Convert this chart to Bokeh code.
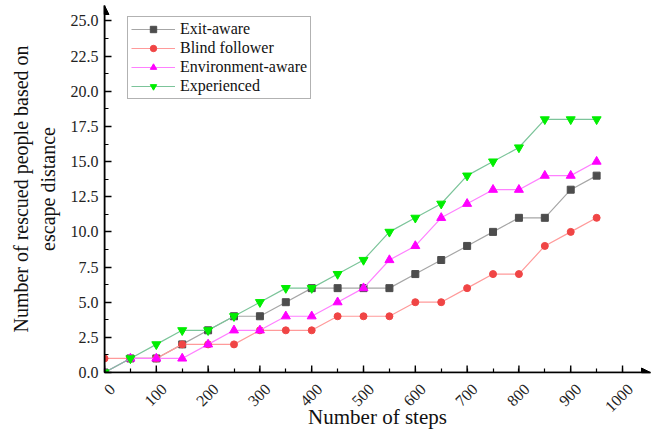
from math import pi
from bokeh.plotting import figure
from bokeh.models import (SingleIntervalTicker, FixedTicker, NumeralTickFormatter, Arrow, NormalHead,
                          Range1d, Legend, LegendItem, ColumnDataSource, LinearAxis)
from bokeh.embed import file_html
from bokeh.resources import INLINE

steps = [0, 50, 100, 150, 200, 250, 300, 350, 400, 450, 500, 550, 600, 650, 700, 750, 800, 850, 900, 950]
exit_aware = [0, 1, 1, 2, 3, 4, 4, 5, 6, 6, 6, 6, 7, 8, 9, 10, 11, 11, 13, 14]
blind_follower = [1, 1, 1, 2, 2, 2, 3, 3, 3, 4, 4, 4, 5, 5, 6, 7, 7, 9, 10, 11]
environment_aware = [0, 1, 1, 1, 2, 3, 3, 4, 4, 5, 6, 8, 9, 11, 12, 13, 13, 14, 14, 15]
experienced = [0, 1, 2, 3, 3, 4, 5, 6, 6, 7, 8, 10, 11, 12, 14, 15, 16, 18, 18, 18]

series_names = ["Exit-aware", "Blind follower", "Environment-aware", "Experienced"]
x_tick_values = [0, 100, 200, 300, 400, 500, 600, 700, 800, 900, 1000]
x_minor_values = [50, 150, 250, 350, 450, 550, 650, 750, 850, 950]
x_label = "Number of steps"
y_label = "Number of rescued people based on\nescape distance"

FONT = "Liberation Serif"
X_END = 1054
Y_END = 26.1
LABEL_SHIFT = 15  # shift of rotated tick labels, in x data units (~8 px)

p = figure(width=659, height=431, output_backend="svg", toolbar_location=None,
           x_range=Range1d(0, X_END), y_range=Range1d(0, Y_END),
           min_border_left=104, min_border_right=9, min_border_top=5, min_border_bottom=59)
p.extra_x_ranges = {"lab": Range1d(-LABEL_SHIFT, X_END - LABEL_SHIFT)}
p.outline_line_color = None
p.xgrid.visible = False
p.ygrid.visible = False
p.background_fill_color = "white"

src = ColumnDataSource(dict(x=steps, a=exit_aware, b=blind_follower, c=environment_aware, d=experienced))

styles = [
    ("a", "#a6a6a6", "#4d4d4d", "square", 7),
    ("b", "#ff9a9a", "#f04545", "circle", 7),
    ("c", "#ff80ff", "#ff00ff", "triangle", 9),
    ("d", "#7cc49a", "#00ee00", "inverted_triangle", 9),
]
items = []
for (col, lc, mc, mk, sz), name in zip(styles, series_names):
    r1 = p.line("x", col, source=src, line_color=lc, line_width=1.2)
    r2 = p.scatter("x", col, source=src, marker=mk, size=sz, fill_color=mc, line_color=mc)
    items.append(LegendItem(label=name, renderers=[r1, r2]))

legend = Legend(items=items, location=(23, 273))
legend.label_text_font = FONT
legend.label_text_font_size = "16px"
legend.label_text_color = "#111111"
legend.label_height = 16
legend.glyph_height = 16
legend.glyph_width = 44
legend.label_standoff = 5
legend.spacing = 1
legend.padding = 3
legend.margin = 0
legend.border_line_color = "#666666"
legend.border_line_width = 1
p.add_layout(legend)

# main x axis: line and minor ticks only
xa = p.xaxis[0]
xa.ticker = FixedTicker(ticks=[], minor_ticks=x_minor_values + x_tick_values)
xa.axis_line_color = "black"
xa.axis_line_width = 1.6
xa.minor_tick_in = 4
xa.minor_tick_out = 0
xa.minor_tick_line_width = 1.2
xa.major_tick_in = 0
xa.major_tick_out = 0
xa.major_label_standoff = 0

# longer major ticks on the x axis
p.segment(x0=x_tick_values, y0=[0] * len(x_tick_values), x1=x_tick_values,
          y1=[0.5] * len(x_tick_values), line_color="black", line_width=1.4)

# tick labels axis (shifted so rotated labels sit as in the reference)
lab_axis = LinearAxis(x_range_name="lab", ticker=FixedTicker(ticks=x_tick_values, minor_ticks=[]))
lab_axis.axis_line_color = None
lab_axis.major_tick_line_color = None
lab_axis.minor_tick_line_color = None
lab_axis.major_tick_in = 0
lab_axis.major_tick_out = 0
lab_axis.major_label_orientation = pi / 4
lab_axis.major_label_standoff = 14
lab_axis.major_label_text_font = FONT
lab_axis.major_label_text_font_size = "16px"
lab_axis.major_label_text_color = "#222222"
lab_axis.axis_label = x_label
lab_axis.axis_label_text_font = FONT
lab_axis.axis_label_text_font_style = "normal"
lab_axis.axis_label_text_font_size = "21px"
lab_axis.axis_label_text_color = "#111111"
lab_axis.axis_label_standoff = -15
p.add_layout(lab_axis, "below")

ya = p.yaxis[0]
ya.ticker = SingleIntervalTicker(interval=2.5, num_minor_ticks=2)
ya.formatter = NumeralTickFormatter(format="0.0")
ya.axis_line_color = "black"
ya.axis_line_width = 1.6
ya.major_tick_in = 7
ya.major_tick_out = 0
ya.minor_tick_in = 4
ya.minor_tick_out = 0
ya.major_tick_line_width = 1.4
ya.minor_tick_line_width = 1.2
ya.major_label_text_font = FONT
ya.major_label_text_font_size = "16px"
ya.major_label_text_color = "#222222"
ya.major_label_standoff = 6
ya.axis_label = y_label
ya.axis_label_text_font = FONT
ya.axis_label_text_font_style = "normal"
ya.axis_label_text_font_size = "20px"
ya.axis_label_text_color = "#111111"
ya.axis_label_standoff = 9

p.add_layout(Arrow(end=NormalHead(size=9, fill_color="black", line_color="black"),
                   x_start=0, y_start=0, x_end=X_END, y_end=0,
                   line_color="black", line_width=1.6))
p.add_layout(Arrow(end=NormalHead(size=9, fill_color="black", line_color="black"),
                   x_start=0, y_start=0, x_end=0, y_end=Y_END,
                   line_color="black", line_width=1.6))

open("out.html", "w").write(file_html(p, INLINE))
